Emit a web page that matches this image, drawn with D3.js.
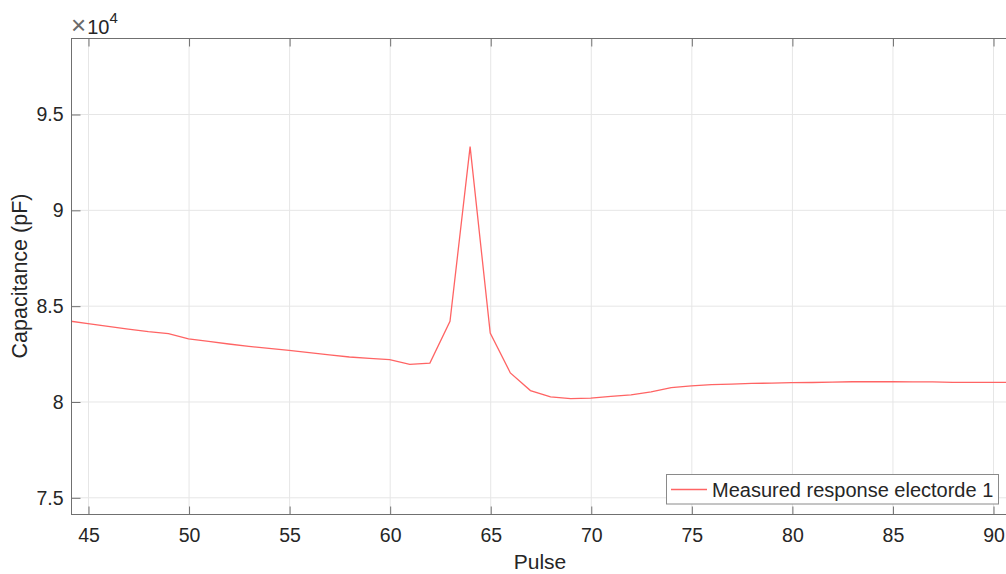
<!DOCTYPE html>
<html>
<head>
<meta charset="utf-8">
<script src="https://cdn.jsdelivr.net/npm/d3@7"></script>
<style>
  body { margin: 0; background: #fff; }
  text { font-family: "Liberation Sans", Arial, sans-serif; fill: #262626; }
</style>
</head>
<body>
<div id="chart"></div>
<script>
const pulses = d3.range(44, 92);
// capacitance in pF (x 10^4)
const capacitance = [
  8.421, 8.406, 8.392, 8.378, 8.364, 8.354, 8.327, 8.314, 8.300, 8.288,
  8.277, 8.267, 8.255, 8.243, 8.232, 8.225, 8.218, 8.194, 8.200, 8.418,
  9.330, 8.357, 8.149, 8.057, 8.024, 8.015, 8.018, 8.027, 8.034, 8.050,
  8.072, 8.081, 8.088, 8.091, 8.094, 8.096, 8.098, 8.099, 8.101, 8.103,
  8.103, 8.103, 8.102, 8.102, 8.100, 8.100, 8.100, 8.100
].map(v => v * 1e4);
const xTicks = [45, 50, 55, 60, 65, 70, 75, 80, 85, 90];
const yTicks = [75000, 80000, 85000, 90000, 95000];
const seriesName = "Measured response electorde 1";

const width = 1006, height = 574;
const margin = {top: 38, bottom: 60, left: 71, right: -4};

const svg = d3.select("#chart")
  .append("svg")
  .attr("width", width)
  .attr("height", height);

const x = d3.scaleLinear()
  .domain([44.155, 90.845])
  .range([margin.left, width - margin.right]);

const y = d3.scaleLinear()
  .domain([74129, 98966])
  .range([height - margin.bottom, margin.top]);

const x0 = margin.left, x1 = width - margin.right;
const y0 = height - margin.bottom, y1 = margin.top;

// grid
svg.append("g")
  .selectAll("line.gx")
  .data(xTicks)
  .join("line")
  .attr("x1", d => x(d) + 0.5).attr("x2", d => x(d) + 0.5)
  .attr("y1", y1).attr("y2", y0)
  .attr("stroke", "#e6e6e6");

svg.append("g")
  .selectAll("line.gy")
  .data(yTicks)
  .join("line")
  .attr("x1", x0).attr("x2", x1)
  .attr("y1", d => y(d) + 0.5).attr("y2", d => y(d) + 0.5)
  .attr("stroke", "#e6e6e6");

// data line
svg.append("clipPath").attr("id", "clip")
  .append("rect")
  .attr("x", x0).attr("y", y1)
  .attr("width", x1 - x0).attr("height", y0 - y1);

const line = d3.line()
  .x((d, i) => x(pulses[i]))
  .y(d => y(d));

svg.append("path")
  .datum(capacitance)
  .attr("clip-path", "url(#clip)")
  .attr("d", line)
  .attr("fill", "none")
  .attr("stroke", "#ff6464")
  .attr("stroke-width", 1.3);

// axes box
const axisColor = "#707070";
svg.append("rect")
  .attr("x", x0 + 0.5).attr("y", y1 + 0.5)
  .attr("width", x1 - x0).attr("height", y0 - y1)
  .attr("fill", "none")
  .attr("stroke", axisColor);

// bottom axis (ticks inward)
const xAxis = svg.append("g")
  .attr("transform", `translate(0.5,${y0 + 0.5})`)
  .call(d3.axisBottom(x).tickValues(xTicks).tickSize(-8).tickPadding(14));
xAxis.select(".domain").remove();
xAxis.selectAll("line").attr("stroke", axisColor);
xAxis.selectAll("text")
  .style("font-size", "19.5px")
  .style("font-family", "Liberation Sans, Arial, sans-serif")
  .attr("fill", "#262626");

// top ticks
const xTop = svg.append("g")
  .attr("transform", `translate(0.5,${y1 + 0.5})`)
  .call(d3.axisTop(x).tickValues(xTicks).tickSize(-8).tickFormat(""));
xTop.select(".domain").remove();
xTop.selectAll("line").attr("stroke", axisColor);

// left axis
const yAxis = svg.append("g")
  .attr("transform", `translate(${x0 + 0.5},0.5)`)
  .call(d3.axisLeft(y).tickValues(yTicks).tickSize(-9).tickPadding(8)
    .tickFormat(d => d3.format("~g")(d / 1e4)));
yAxis.select(".domain").remove();
yAxis.selectAll("line").attr("stroke", axisColor);
yAxis.selectAll("text")
  .style("font-size", "19.5px")
  .style("font-family", "Liberation Sans, Arial, sans-serif")
  .attr("fill", "#262626");

// exponent label
const expo = svg.append("text")
  .attr("x", 71)
  .attr("y", 34)
  .style("font-size", "20px");
expo.append("tspan").text("\u00d7").attr("fill", "#6a6a6a").style("font-size", "26px");
expo.append("tspan").text("10").attr("dx", 1);
expo.append("tspan").text("4").attr("dy", -11).style("font-size", "15px");

// axis labels
svg.append("text")
  .attr("x", 540)
  .attr("y", 569)
  .style("text-anchor", "middle")
  .style("font-size", "21px")
  .text("Pulse");

svg.append("text")
  .attr("transform", "rotate(-90)")
  .attr("x", -276)
  .attr("y", 27)
  .style("text-anchor", "middle")
  .style("font-size", "21.5px")
  .text("Capacitance (pF)");

// legend
const legend = svg.append("g");
legend.append("rect")
  .attr("x", 666.5).attr("y", 474.5)
  .attr("width", 332).attr("height", 29.5)
  .attr("fill", "#fff")
  .attr("stroke", "#8a8a8a");
legend.append("line")
  .attr("x1", 671).attr("x2", 707)
  .attr("y1", 489.5).attr("y2", 489.5)
  .attr("stroke", "#ff6464")
  .attr("stroke-width", 1.3);
legend.append("text")
  .attr("x", 712)
  .attr("y", 497)
  .style("font-size", "20px")
  .text(seriesName);
</script>
</body>
</html>
